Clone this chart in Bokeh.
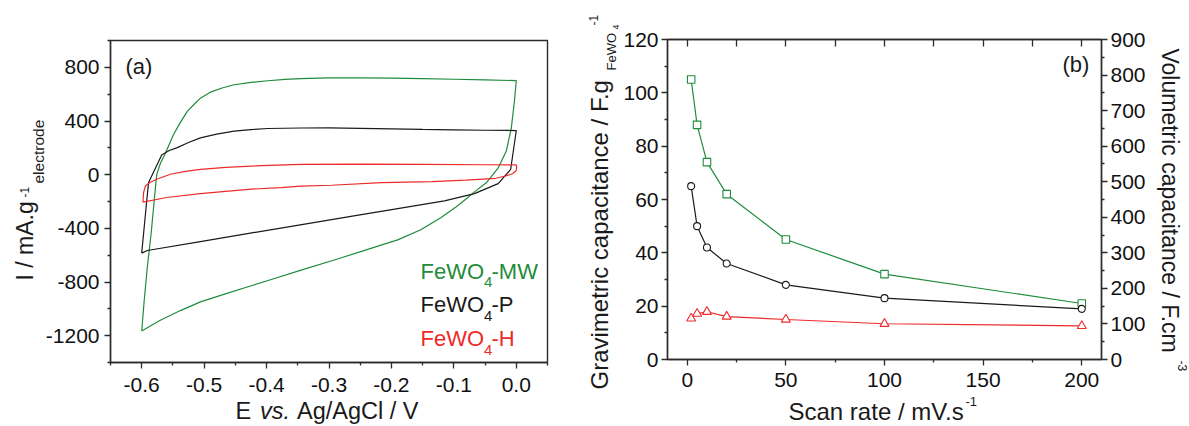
from bokeh.plotting import figure
from bokeh.models import Range1d, LinearAxis, FixedTicker, Label, GridBox
from bokeh.layouts import row
from bokeh.embed import file_html
from bokeh.resources import INLINE
import math

FONT = "Liberation Sans"
GREEN = "#1F8C3B"
BLACK = "#1A1A1A"
RED = "#EE2A2A"
AX = "#2B2B2B"

# ---------------- (a) cyclic voltammograms ----------------
mw_E = [-0.600, -0.596, -0.591, -0.585, -0.580, -0.576, -0.570, -0.563, -0.556, -0.549,
        -0.538, -0.527, -0.516, -0.506, -0.490, -0.470, -0.452, -0.425, -0.398, -0.370,
        -0.345, -0.300, -0.250, -0.200, -0.150, -0.100, -0.050, 0.000,
        -0.003, -0.008, -0.016, -0.029, -0.048, -0.068, -0.080, -0.096, -0.121, -0.153,
        -0.190, -0.233, -0.285, -0.346, -0.386, -0.426, -0.466, -0.506, -0.538, -0.571, -0.600]
mw_I = [-1165, -936, -689, -442, -195, 0, 85, 150, 225, 299,
        390, 472, 525, 570, 615, 648, 670, 688, 700, 710,
        716, 721, 722, 720, 716, 711, 706, 701,
        546, 346, 176, 50, -61, -132, -180, -239, -321, -410,
        -486, -549, -627, -713, -772, -830, -889, -948, -1013, -1087, -1165]

p_E = [-0.600, -0.596, -0.592, -0.589, -0.576, -0.568, -0.556, -0.544, -0.525, -0.506,
       -0.480, -0.452, -0.425, -0.398, -0.345, -0.300, -0.250, -0.200, -0.150, -0.100,
       -0.050, 0.000,
       -0.009, -0.029, -0.067, -0.115, -0.185, -0.265, -0.346, -0.426, -0.506, -0.591, -0.600]
p_I = [-585, -390, -195, -59, 68, 146, 180, 200, 240, 274,
       302, 324, 336, 344, 348, 349, 345, 341, 337, 334,
       331, 329,
       40, -67, -141, -195, -249, -311, -374, -436, -499, -565, -585]

h_E = [-0.598, -0.597, -0.594, -0.587, -0.576, -0.554, -0.530, -0.506, -0.465, -0.425,
       -0.345, -0.250, -0.150, -0.050, 0.000, 0.0006, -0.0006, -0.006, -0.017, -0.033,
       -0.081, -0.135, -0.216, -0.296, -0.345, -0.377, -0.425, -0.506, -0.560, -0.598]
h_I = [-205, -133, -84, -59, -34, 3, 25, 40, 55, 64,
       77, 78, 76, 74, 73, 52, 27, 7, -10, -27,
       -41, -52, -59, -79, -86, -96, -108, -141, -170, -205]

a_xticks = [-0.6, -0.5, -0.4, -0.3, -0.2, -0.1, 0.0]
a_xlabels = ["-0.6", "-0.5", "-0.4", "-0.3", "-0.2", "-0.1", "0.0"]
a_xminor = [-0.65, -0.55, -0.45, -0.35, -0.25, -0.15, -0.05, 0.05]
a_yticks = [-1200, -800, -400, 0, 400, 800]
a_ylabels = ["-1200", "-800", "-400", "0", "400", "800"]
a_yminor = [-1400, -1000, -600, -200, 200, 600, 1000]

# ---------------- (b) capacitance vs scan rate ----------------
scan_rate = [2, 5, 10, 20, 50, 100, 200]
cap_mw = [105, 88, 74, 62, 45, 32, 21]
cap_p = [65, 50, 42, 36, 28, 23, 19]
cap_h = [15.4, 17.2, 17.9, 16.1, 15.0, 13.4, 12.6]

b_xticks = [0, 50, 100, 150, 200]
b_xminor = [25, 75, 125, 175]
b_top_ticks = [0, 25, 50, 75, 100, 125, 150, 175, 200]
b_yticks = [0, 20, 40, 60, 80, 100, 120]
b_yminor = [10, 30, 50, 70, 90, 110]
b_vticks = [0, 100, 200, 300, 400, 500, 600, 700, 800, 900]
b_vminor = [50, 150, 250, 350, 450, 550, 650, 750, 850]

legend_names = ["-MW", "-P", "-H"]


def style_axis(ax, ticks, minor, labels=None, tick_in=0, tick_out=6, standoff=5, show_labels=True):
    ax.ticker = FixedTicker(ticks=ticks, minor_ticks=minor)
    ax.axis_line_color = AX
    ax.axis_line_width = 1.4
    ax.major_tick_line_color = AX
    ax.major_tick_line_width = 1.3
    ax.minor_tick_line_color = AX
    ax.minor_tick_line_width = 1.3
    ax.major_tick_in = tick_in
    ax.major_tick_out = tick_out
    ax.minor_tick_in = 0 if tick_out else tick_in
    ax.minor_tick_out = 3 if tick_out else 0
    ax.major_label_text_font = FONT
    ax.major_label_text_font_size = "21px"
    ax.major_label_text_color = "#111111" if show_labels else None
    ax.major_label_standoff = standoff
    if labels is not None:
        ax.major_label_overrides = {t: l for t, l in zip(ticks, labels)}
    elif not show_labels:
        ax.major_label_overrides = {t: "" for t in ticks}
    ax.axis_label = None


def no_align(p):
    try:
        p.frame_align = False
    except Exception:
        pass


# ---- figure (a)
p1 = figure(width=590, height=426, x_range=Range1d(-0.65, 0.05), y_range=Range1d(-1400, 1000),
            output_backend="svg", toolbar_location=None,
            min_border_left=110, min_border_right=43, min_border_top=40, min_border_bottom=64)
no_align(p1)
p1.grid.visible = False
p1.outline_line_color = AX
p1.outline_line_width = 1.4
p1.background_fill_color = "white"
p1.border_fill_color = "white"
style_axis(p1.xaxis[0], a_xticks, a_xminor, a_xlabels, standoff=9)
style_axis(p1.yaxis[0], a_yticks, a_yminor, a_ylabels, standoff=5)

p1.line(mw_E, mw_I, line_color=GREEN, line_width=1.2)
p1.line(p_E, p_I, line_color=BLACK, line_width=1.2)
p1.line(h_E, h_I, line_color=RED, line_width=1.2)

# ---- figure (b)
p2 = figure(width=599, height=426, x_range=Range1d(-10, 210), y_range=Range1d(0, 120),
            output_backend="svg", toolbar_location=None,
            min_border_left=77, min_border_right=88, min_border_top=39, min_border_bottom=67)
no_align(p2)
p2.grid.visible = False
p2.outline_line_color = AX
p2.outline_line_width = 1.4
p2.background_fill_color = "white"
p2.border_fill_color = "white"
p2.extra_y_ranges = {"vol": Range1d(0, 900)}
style_axis(p2.xaxis[0], b_xticks, b_xminor, standoff=7)
style_axis(p2.yaxis[0], b_yticks, b_yminor, standoff=3)
right_ax = LinearAxis(y_range_name="vol")
style_axis(right_ax, b_vticks, b_vminor, standoff=3)
p2.add_layout(right_ax, "right")
top_ax = LinearAxis()
style_axis(top_ax, b_top_ticks, [], tick_in=7, tick_out=0, show_labels=False)
top_ax.major_label_text_font_size = "1px"
p2.add_layout(top_ax, "above")

p2.line(scan_rate, cap_mw, line_color=GREEN, line_width=1.2)
p2.scatter(scan_rate, cap_mw, marker="square", size=7.5, line_color=GREEN, fill_color="white", line_width=1.1)
p2.line(scan_rate, cap_p, line_color=BLACK, line_width=1.2)
p2.scatter(scan_rate, cap_p, marker="circle", size=7, line_color=BLACK, fill_color="white", line_width=1.1)
p2.line(scan_rate, cap_h, line_color=RED, line_width=1.2)
p2.scatter(scan_rate, cap_h, marker="triangle", size=9, line_color=RED, fill_color="white", line_width=1.1)

# ---- transparent overlay holding all free texts (titles, sub/superscripts, legend)
p3 = figure(width=1189, height=426, x_range=Range1d(0, 1189), y_range=Range1d(426, 0),
            output_backend="svg", toolbar_location=None,
            x_axis_location=None, y_axis_location=None, min_border=0,
            min_border_left=0, min_border_right=0, min_border_top=0, min_border_bottom=0)
no_align(p3)
p3.grid.visible = False
p3.outline_line_color = None
p3.background_fill_color = None
p3.border_fill_color = None

SHIFT = 0.35  # empirical correction (in em) between requested and drawn baseline


def lab(x, y, text, size, color=BLACK, angle=0.0, style="normal"):
    d = SHIFT * size
    if angle == 0.0:
        y -= d
    elif angle > 0:
        x -= d
    else:
        x += d
    p3.add_layout(Label(x=x, y=y, x_units="canvas", y_units="canvas", text=text,
                        angle=angle, text_font=FONT, text_font_size=f"{size}px",
                        text_color=color, text_align="left", text_baseline="alphabetic",
                        text_font_style=style))


lab(125, 74, "(a)", 22)
for base, name, col in zip([278.5, 312, 346], legend_names, [GREEN, BLACK, RED]):
    lab(420, base, "FeWO", 22, col)
    lab(483.5, base + 8.5, "4", 15, col)
    lab(491, base, name, 22, col)

# (a) x title
lab(235, 419, "E", 23.5)
lab(259.5, 419, "vs.", 23.5, style="italic")
lab(296.5, 419, "Ag/AgCl / V", 23.5)
# (a) y title
lab(33, 280, "I / mA.g", 23, angle=math.pi / 2)
lab(28, 197, "-1", 12, angle=math.pi / 2)
lab(43, 183, "electrode", 15.5, angle=math.pi / 2)

OX = 590
lab(OX + 472, 72, "(b)", 22)
# (b) bottom title
lab(OX + 198, 419.5, "Scan rate / mV.s", 24)
lab(OX + 375, 406, "-1", 13)
# (b) left title
lab(OX + 17, 389, "Gravimetric capacitance / F.g", 24, angle=math.pi / 2)
lab(OX + 26, 70, "FeWO", 13, angle=math.pi / 2)
lab(OX + 29, 29, "4", 9, angle=math.pi / 2)
lab(OX + 7.5, 25, "-1", 12, angle=math.pi / 2)
# (b) right title
lab(OX + 571, 48, "Volumetric capacitance / F.cm", 23, angle=-math.pi / 2)
lab(OX + 588, 360, "-3", 12, angle=-math.pi / 2)

panels = row(p1, p2)
layout = GridBox(children=[(panels, 0, 0), (p3, 0, 0)], spacing=0)
open("out.html", "w").write(file_html(layout, INLINE))
